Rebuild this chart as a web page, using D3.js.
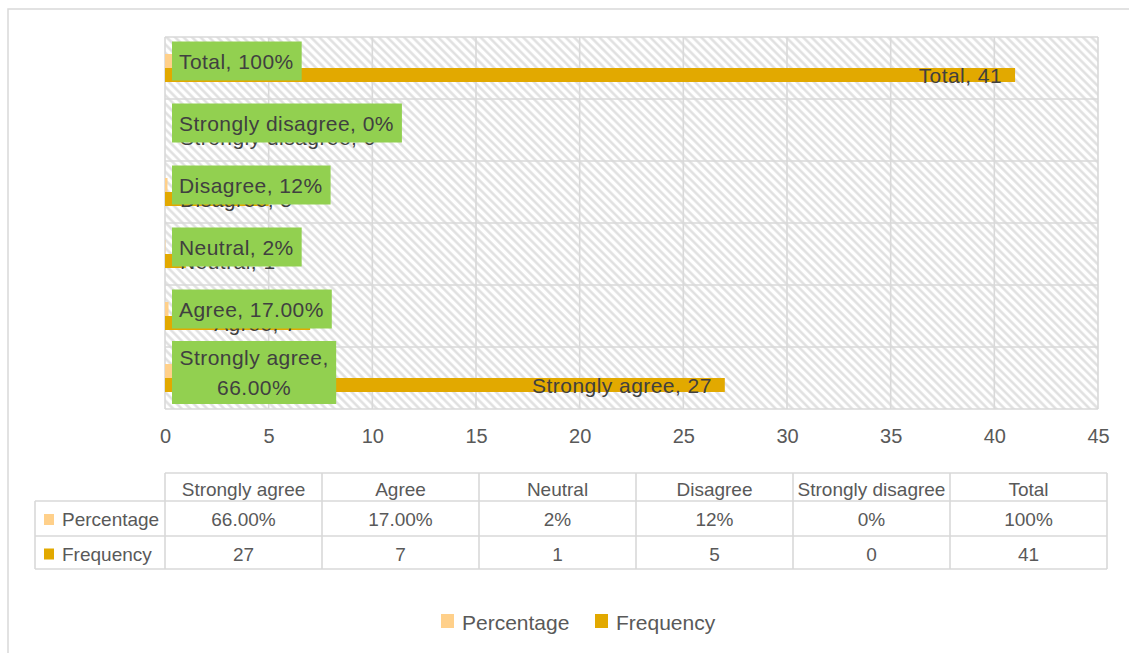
<!DOCTYPE html>
<html>
<head>
<meta charset="utf-8">
<script src="https://cdn.jsdelivr.net/npm/d3@7/dist/d3.min.js"></script>
<style>
  html, body { margin: 0; padding: 0; background: #fff; }
  svg { display: block; font-family: "Liberation Sans", Arial, sans-serif; }
</style>
</head>
<body>
<svg id="chart" width="1129" height="653"></svg>
<script>
// ---- data ----
const categories = ["Strongly agree", "Agree", "Neutral", "Disagree", "Strongly disagree", "Total"];
const percentage = [0.66, 0.17, 0.02, 0.12, 0, 1.0];
const percentageLabels = ["66.00%", "17.00%", "2%", "12%", "0%", "100%"];
const frequency = [27, 7, 1, 5, 0, 41];
const frequencyLabels = ["27", "7", "1", "5", "0", "41"];
const xTicks = [0, 5, 10, 15, 20, 25, 30, 35, 40, 45];
const seriesNames = ["Percentage", "Frequency"];

// ---- styles ----
const colPct = "#FFD08A";
const colFreq = "#E2A900";
const colGreen = "#92D050";
const gridCol = "#d9d9d9";
const textCol = "#595959";
const labelCol = "#404040";

const svg = d3.select("#chart");

// outer chart border
svg.append("rect").attr("x", 8).attr("y", 9).attr("width", 1140).attr("height", 660)
  .attr("fill", "#fff").attr("stroke", gridCol).attr("stroke-width", 1.5);

// hatch pattern
const defs = svg.append("defs");
const pat = defs.append("pattern").attr("id", "hatch")
  .attr("width", 6).attr("height", 6)
  .attr("patternUnits", "userSpaceOnUse")
  .attr("patternTransform", "rotate(-45)");
pat.append("rect").attr("width", 6).attr("height", 6).attr("fill", "#fff");
pat.append("line").attr("x1", 1.5).attr("y1", 0).attr("x2", 1.5).attr("y2", 6)
  .attr("stroke", "#dedede").attr("stroke-width", 2.4);

// scales
const x = d3.scaleLinear().domain([0, 45]).range([165, 1098]);
const y = d3.scaleBand().domain(categories.slice().reverse()).range([37, 409]).padding(0);

// plot area
svg.append("rect").attr("x", x(0)).attr("y", 37).attr("width", x(45) - x(0)).attr("height", 409 - 37)
  .attr("fill", "url(#hatch)");

// vertical gridlines
svg.append("g").selectAll("line").data(xTicks).join("line")
  .attr("x1", d => x(d)).attr("x2", d => x(d)).attr("y1", 37).attr("y2", 409)
  .attr("stroke", gridCol).attr("stroke-width", 1.6);
// horizontal category boundaries
const bounds = categories.map(c => y(c)).concat([409]);
svg.append("g").selectAll("line").data(bounds).join("line")
  .attr("x1", x(0)).attr("x2", x(45)).attr("y1", d => d).attr("y2", d => d)
  .attr("stroke", gridCol).attr("stroke-width", 1.6);

// x axis tick labels
const axis = d3.axisBottom(x).tickValues(xTicks).tickSize(0).tickPadding(0);
const gAxis = svg.append("g").attr("transform", "translate(0,425)").call(axis);
gAxis.select(".domain").remove();
gAxis.selectAll("text").attr("fill", textCol).attr("font-size", 20)
  .attr("font-family", "'Liberation Sans', Arial, sans-serif").attr("dy", "0.9em");

// bars
const barH = 14;
const rows = categories.map((c, i) => ({ c, p: percentage[i], pl: percentageLabels[i], f: frequency[i], fl: frequencyLabels[i] }));
const mid = d => y(d.c) + y.bandwidth() / 2;

svg.append("g").selectAll("rect").data(rows).join("rect")
  .attr("x", x(0)).attr("y", d => mid(d) - barH)
  .attr("width", d => x(d.p) - x(0)).attr("height", barH)
  .attr("fill", colPct);
svg.append("g").selectAll("rect").data(rows).join("rect")
  .attr("x", x(0)).attr("y", d => mid(d))
  .attr("width", d => x(d.f) - x(0)).attr("height", barH)
  .attr("fill", colFreq);

// frequency labels (inside end, clamped to start)
const fs = 21;
const ls = 0.45;
const gF = svg.append("g");
rows.forEach(d => {
  const t = gF.append("text").text(d.c + ", " + d.fl)
    .attr("font-size", fs).attr("fill", labelCol).attr("letter-spacing", ls)
    .attr("y", mid(d) + barH / 2 + fs * 0.36);
  const w = t.node().getComputedTextLength();
  const xs = Math.max(x(0) + 15, x(d.f) - 13 - w);
  t.attr("x", xs);
});

// percentage labels (green boxes)
const gP = svg.append("g");
rows.forEach(d => {
  const g = gP.append("g");
  const full = d.c + ", " + d.pl;
  const probe = g.append("text").text(full).attr("font-size", fs).attr("letter-spacing", ls);
  const wFull = probe.node().getComputedTextLength();
  probe.remove();
  const lines = wFull > 222 ? [d.c + ",", d.pl] : [full];
  const lh = 30;
  const texts = lines.map(s => g.append("text").text(s).attr("font-size", fs)
    .attr("letter-spacing", ls).attr("fill", labelCol));
  const ws = texts.map(t => t.node().getComputedTextLength());
  const bw = d3.max(ws) + 15;
  const bh = lines.length === 1 ? 39 : 63;
  const cy = mid(d) - barH / 2 + (lines.length === 1 ? 0 : 1.5);
  const bx = 172;
  g.insert("rect", "text").attr("x", bx).attr("y", cy - bh / 2).attr("width", bw).attr("height", bh)
    .attr("fill", colGreen);
  texts.forEach((t, i) => {
    const ly = cy + (i - (lines.length - 1) / 2) * lh + fs * 0.36;
    if (lines.length === 1) {
      t.attr("x", bx + 7).attr("y", ly);
    } else {
      t.attr("x", bx + bw / 2).attr("y", ly).attr("text-anchor", "middle");
    }
  });
});

// ---- data table ----
const tx = d3.scaleBand().domain(categories).range([165, 1107]);
const tLeft = 35;
const rowY = [473, 501, 536, 569];
const tfs = 19;
const gT = svg.append("g");
// horizontal lines
gT.append("line").attr("x1", 165).attr("x2", 1107).attr("y1", rowY[0]).attr("y2", rowY[0]);
[1, 2, 3].forEach(i => gT.append("line").attr("x1", tLeft).attr("x2", 1107).attr("y1", rowY[i]).attr("y2", rowY[i]));
// vertical lines
gT.append("line").attr("x1", tLeft).attr("x2", tLeft).attr("y1", rowY[1]).attr("y2", rowY[3]);
categories.concat(["__end"]).forEach((c, i) => {
  const xx = i < categories.length ? tx(c) : 1107;
  gT.append("line").attr("x1", xx).attr("x2", xx).attr("y1", rowY[0]).attr("y2", rowY[3]);
});
gT.selectAll("line").attr("stroke", gridCol).attr("stroke-width", 1.6);

const rowCenters = [489, 519.5, 554];
categories.forEach((c, i) => {
  const cx = tx(c) + tx.bandwidth() / 2;
  gT.append("text").text(c).attr("x", cx).attr("y", rowCenters[0] + tfs * 0.36)
    .attr("text-anchor", "middle").attr("font-size", tfs).attr("fill", textCol);
  gT.append("text").text(percentageLabels[i]).attr("x", cx).attr("y", rowCenters[1] + tfs * 0.36)
    .attr("text-anchor", "middle").attr("font-size", tfs).attr("fill", textCol);
  gT.append("text").text(frequencyLabels[i]).attr("x", cx).attr("y", rowCenters[2] + tfs * 0.36)
    .attr("text-anchor", "middle").attr("font-size", tfs).attr("fill", textCol);
});
const keyCols = [colPct, colFreq];
seriesNames.forEach((s, i) => {
  const cy = rowCenters[i + 1];
  gT.append("rect").attr("x", 44).attr("y", cy - 5.5).attr("width", 10).attr("height", 11).attr("fill", keyCols[i]);
  gT.append("text").text(s).attr("x", 62).attr("y", cy + tfs * 0.36)
    .attr("font-size", tfs).attr("fill", textCol);
});

// ---- legend ----
const gL = svg.append("g");
const legX = [441, 595];
seriesNames.forEach((s, i) => {
  gL.append("rect").attr("x", legX[i]).attr("y", 614).attr("width", 13).attr("height", 14).attr("fill", keyCols[i]);
  gL.append("text").text(s).attr("x", legX[i] + 21).attr("y", 621 + 21 * 0.36 + 1)
    .attr("font-size", 21).attr("fill", textCol);
});
</script>
</body>
</html>
